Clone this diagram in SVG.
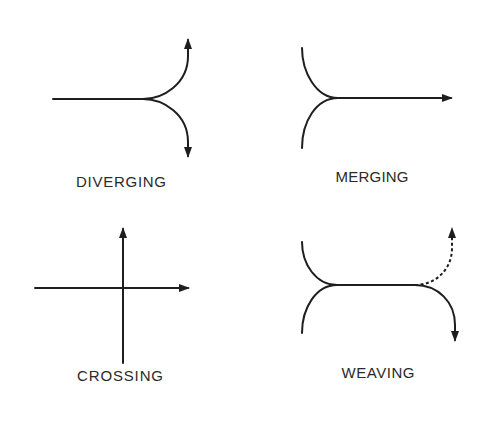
<svg xmlns="http://www.w3.org/2000/svg" width="480" height="421" viewBox="0 0 480 421">
<style>
.ln{fill:none;stroke:#1e1e1e;stroke-width:2;stroke-linecap:round}
.dash{stroke-dasharray:3,2.5;stroke-linecap:butt}
.lbl{font-family:"Liberation Sans",Arial,sans-serif;font-size:15px;fill:#2a2a2a;text-anchor:middle}
</style>
<defs>
<marker id="ah" markerUnits="userSpaceOnUse" markerWidth="12" markerHeight="10" refX="9" refY="4" orient="auto">
<path d="M0,0 L11,4 L0,8 Z" fill="#1e1e1e"/>
</marker>
</defs>
<rect width="480" height="421" fill="#ffffff"/>
<g id="connectors">
<g id="diverging">
<path class="ln" d="M53,99 L143,99"/>
<path class="ln" d="M143,99 C163,99 188,84 188,56 L188,40" marker-end="url(#ah)"/>
<path class="ln" d="M143,99 C163,99 188,114 188,142 L188,156" marker-end="url(#ah)"/>
</g>
<g id="merging">
<path class="ln" d="M302,48 C302,72 316,98 338,98"/>
<path class="ln" d="M338,98 C316,98 302,122 302,148"/>
<path class="ln" d="M338,98 L451,98" marker-end="url(#ah)"/>
</g>
<g id="crossing">
<path class="ln" d="M35,288 L188,288" marker-end="url(#ah)"/>
<path class="ln" d="M123,363 L123,229" marker-end="url(#ah)"/>
</g>
<g id="weaving">
<path class="ln" d="M302,242 C302,264 316,285 337,285"/>
<path class="ln" d="M337,285 C316,285 302,308 302,333"/>
<path class="ln" d="M337,285 L415,285"/>
<path class="ln" d="M415,285 C438,285 455,302 455,325 L455,340" marker-end="url(#ah)"/>
<path class="ln dash" d="M415,285 C435,285 452,270 452,248 L452,229" marker-end="url(#ah)"/>
</g>
</g>
<g id="label-diverging"><text class="lbl" x="121" y="187" textLength="90">DIVERGING</text></g>
<g id="label-merging"><text class="lbl" x="372" y="182" textLength="73">MERGING</text></g>
<g id="label-crossing"><text class="lbl" x="120" y="381" textLength="86">CROSSING</text></g>
<g id="label-weaving"><text class="lbl" x="378" y="378" textLength="73">WEAVING</text></g>
</svg>
